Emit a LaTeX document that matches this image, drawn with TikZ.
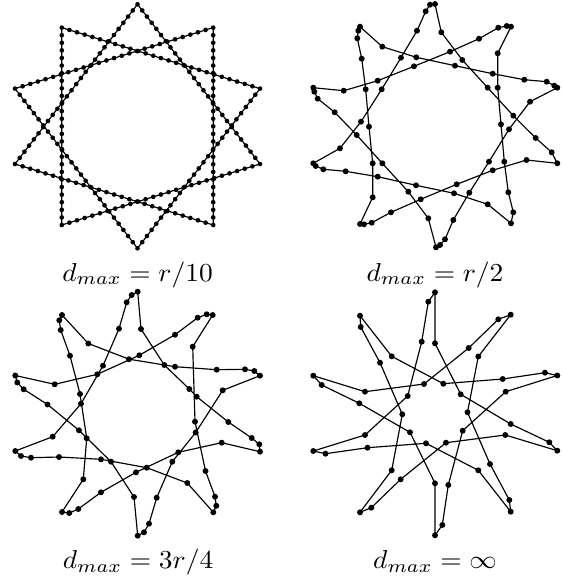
\documentclass[tikz,border=0pt]{standalone}
\usetikzlibrary{calc}

\newcommand{\dmaxlabel}[1]{\scalebox{1.06}[1]{$d_{max} = #1$}}

\begin{document}
\begin{tikzpicture}[
  x=0.386pt, y=-0.386pt,
  edge/.style={line width=0.45pt},
  sampled/.style={edge, mark=*, mark size=0.9pt},
  caption/.style={anchor=base, inner sep=0pt},
]
\useasboundingbox (0,0) rectangle (561,579);

% d_max = r/10 : the {10/3} star, evenly sampled
\foreach \k in {0,...,9}
  \coordinate (v\k) at ({137.5+128.8*cos(90-36*\k)},{126.3-122*sin(90-36*\k)});
\draw[edge] (v0) -- (v3) -- (v6) -- (v9) -- (v2) -- (v5) -- (v8) -- (v1) -- (v4) -- (v7) -- cycle;
\foreach \a/\b in {0/3,3/6,6/9,9/2,2/5,5/8,8/1,1/4,4/7,7/0}
  \foreach \i in {0,...,25}
    \fill ($(v\a)!\i/26!(v\b)$) circle[radius=0.9pt];
\node[caption] (cap1) at (137.5,281) {\dmaxlabel{r/10}};

% d_max = r/2
\draw[sampled] plot coordinates {
  (435,4) (441.3,32.3) (462.3,60) (487.7,87.7) (513.3,115.7) (535.7,138) (551.7,152.3)
  (557.3,163.3) (526.5,160) (492.7,170.3) (456.7,184.3) (420.7,199.3) (391,212.3) (371.7,222.7) (364,224.3)
  (360,224) (372.7,197.3) (372.7,163.3) (369,126.7) (365.7,89.3) (361.7,58.7) (357.3,38.3) (358.3,30.7)
  (360,26.7) (382.3,46.7) (416.3,57.3) (455,65.7) (492.7,73.7) (524.3,79.7) (546.7,81.7) (554.3,85.7)
  (557.3,87.7) (530,101.7) (509,129.3) (489,161.7) (469.3,192.7) (453.3,220) (445,239.3) (440,245)
  (436,247.3) (428.3,218.3) (408.3,191.7) (382.3,163.3) (356.7,135) (334.7,112.3) (317.7,98.7) (314.3,91.7)
  (313.3,87.7) (343.7,90.7) (377.7,80.7) (414,66.3) (450,51.7) (479,38.7) (498.3,27.7) (506.7,26)
  (511,26.7) (497.7,53.3) (497.7,87.7) (501,124.3) (504.3,161.7) (508.3,192.3) (513.3,212.3)
  (511,223.3) (487.7,204.3) (454,193.3) (416,185.3) (377.7,176.7) (345.7,171.3) (323.3,169.3) (315.7,166)
  (313.3,163.3) (340,148.3) (361,121.7) (381.7,89.3) (401,57.7) (417,30.7) (425.7,11.3) (430,4.7)
} -- cycle;
\node[caption] (cap2) at (435,281) {\dmaxlabel{r/2}};

% d_max = 3r/4
\draw[sampled] plot coordinates {
  (137.7,291.7) (141,329) (164.3,365) (189.3,389) (196.7,396.7) (228.3,422) (251.7,438) (259.3,444.3)
  (260,451.7) (221.7,442.7) (178.3,452.3) (136,472.3) (101,492.3) (78.3,509) (69.3,513)
  (62,512) (83.3,479.3) (86.7,438.3) (80,394) (70,355.7) (60.7,330) (59.3,320.3)
  (62,315) (88.3,343.5) (129,359.2) (175,366.7) (216.7,369.7) (245,369.3) (254.3,371)
  (260,375.7) (222.7,390.3) (195.7,432.5) (172.3,461.7) (156.7,497.7) (149,523.7) (144,532.3)
  (137.7,535.7) (134,497) (111,461.7) (79,430.3) (47.5,404.5) (23.7,389.3) (17.3,382.5)
  (15.3,375.5) (54.7,384.3) (97.3,374.3) (139.3,355.3) (175,334.7) (197.7,317.7) (206.7,314.3)
  (212.7,315) (192.7,346.7) (195,421.7) (205.5,471) (215,496.7) (216.3,505.8)
  (213.3,512.3) (187.3,483) (146.7,467.7) (101,459.3) (59,457) (31,457.7) (21,456)
  (15.3,451) (52.7,436.7) (81,403.7) (103,365.7) (119,328.7) (126.7,302.3) (131.7,295)
} -- cycle;
\node[caption] (cap3) at (138,568.3) {\dmaxlabel{3r/4}};

% d_max = infinity
\draw[sampled] plot coordinates {
  (435,292.3) (435,343.3) (460.7,394.3) (510.7,424) (549.3,442.3)
  (557.3,450.7) (505.3,435) (446,442.7) (400.7,479.3) (371.3,507.7)
  (360,512.3) (391.7,470.3) (402.3,414.3) (380,362.7) (360.7,327)
  (360,315.7) (391.7,356.3) (443.3,383.7) (502.7,379) (545,372.7)
  (557.3,375.5) (505.7,391.7) (462.7,430.7) (448.3,485) (442.3,525)
  (435,535.3) (435,483.3) (410,432.3) (359.3,403.3) (321.7,385)
  (313.3,375.7) (365,391.7) (424,384) (468.7,348) (498.3,319.3)
  (510.7,314.7) (478.3,356.5) (467.5,412.3) (490,464) (509.3,500)
  (510.7,511.7) (478.3,470.3) (426,443.3) (367.5,447.7) (325.5,453.7)
  (313.3,451) (365,435) (407.7,396) (421.7,341.7) (428.3,301.7)
} -- cycle;
\node[caption] (cap4) at (435,568.3) {\dmaxlabel{\infty}};

\end{tikzpicture}
\end{document}
